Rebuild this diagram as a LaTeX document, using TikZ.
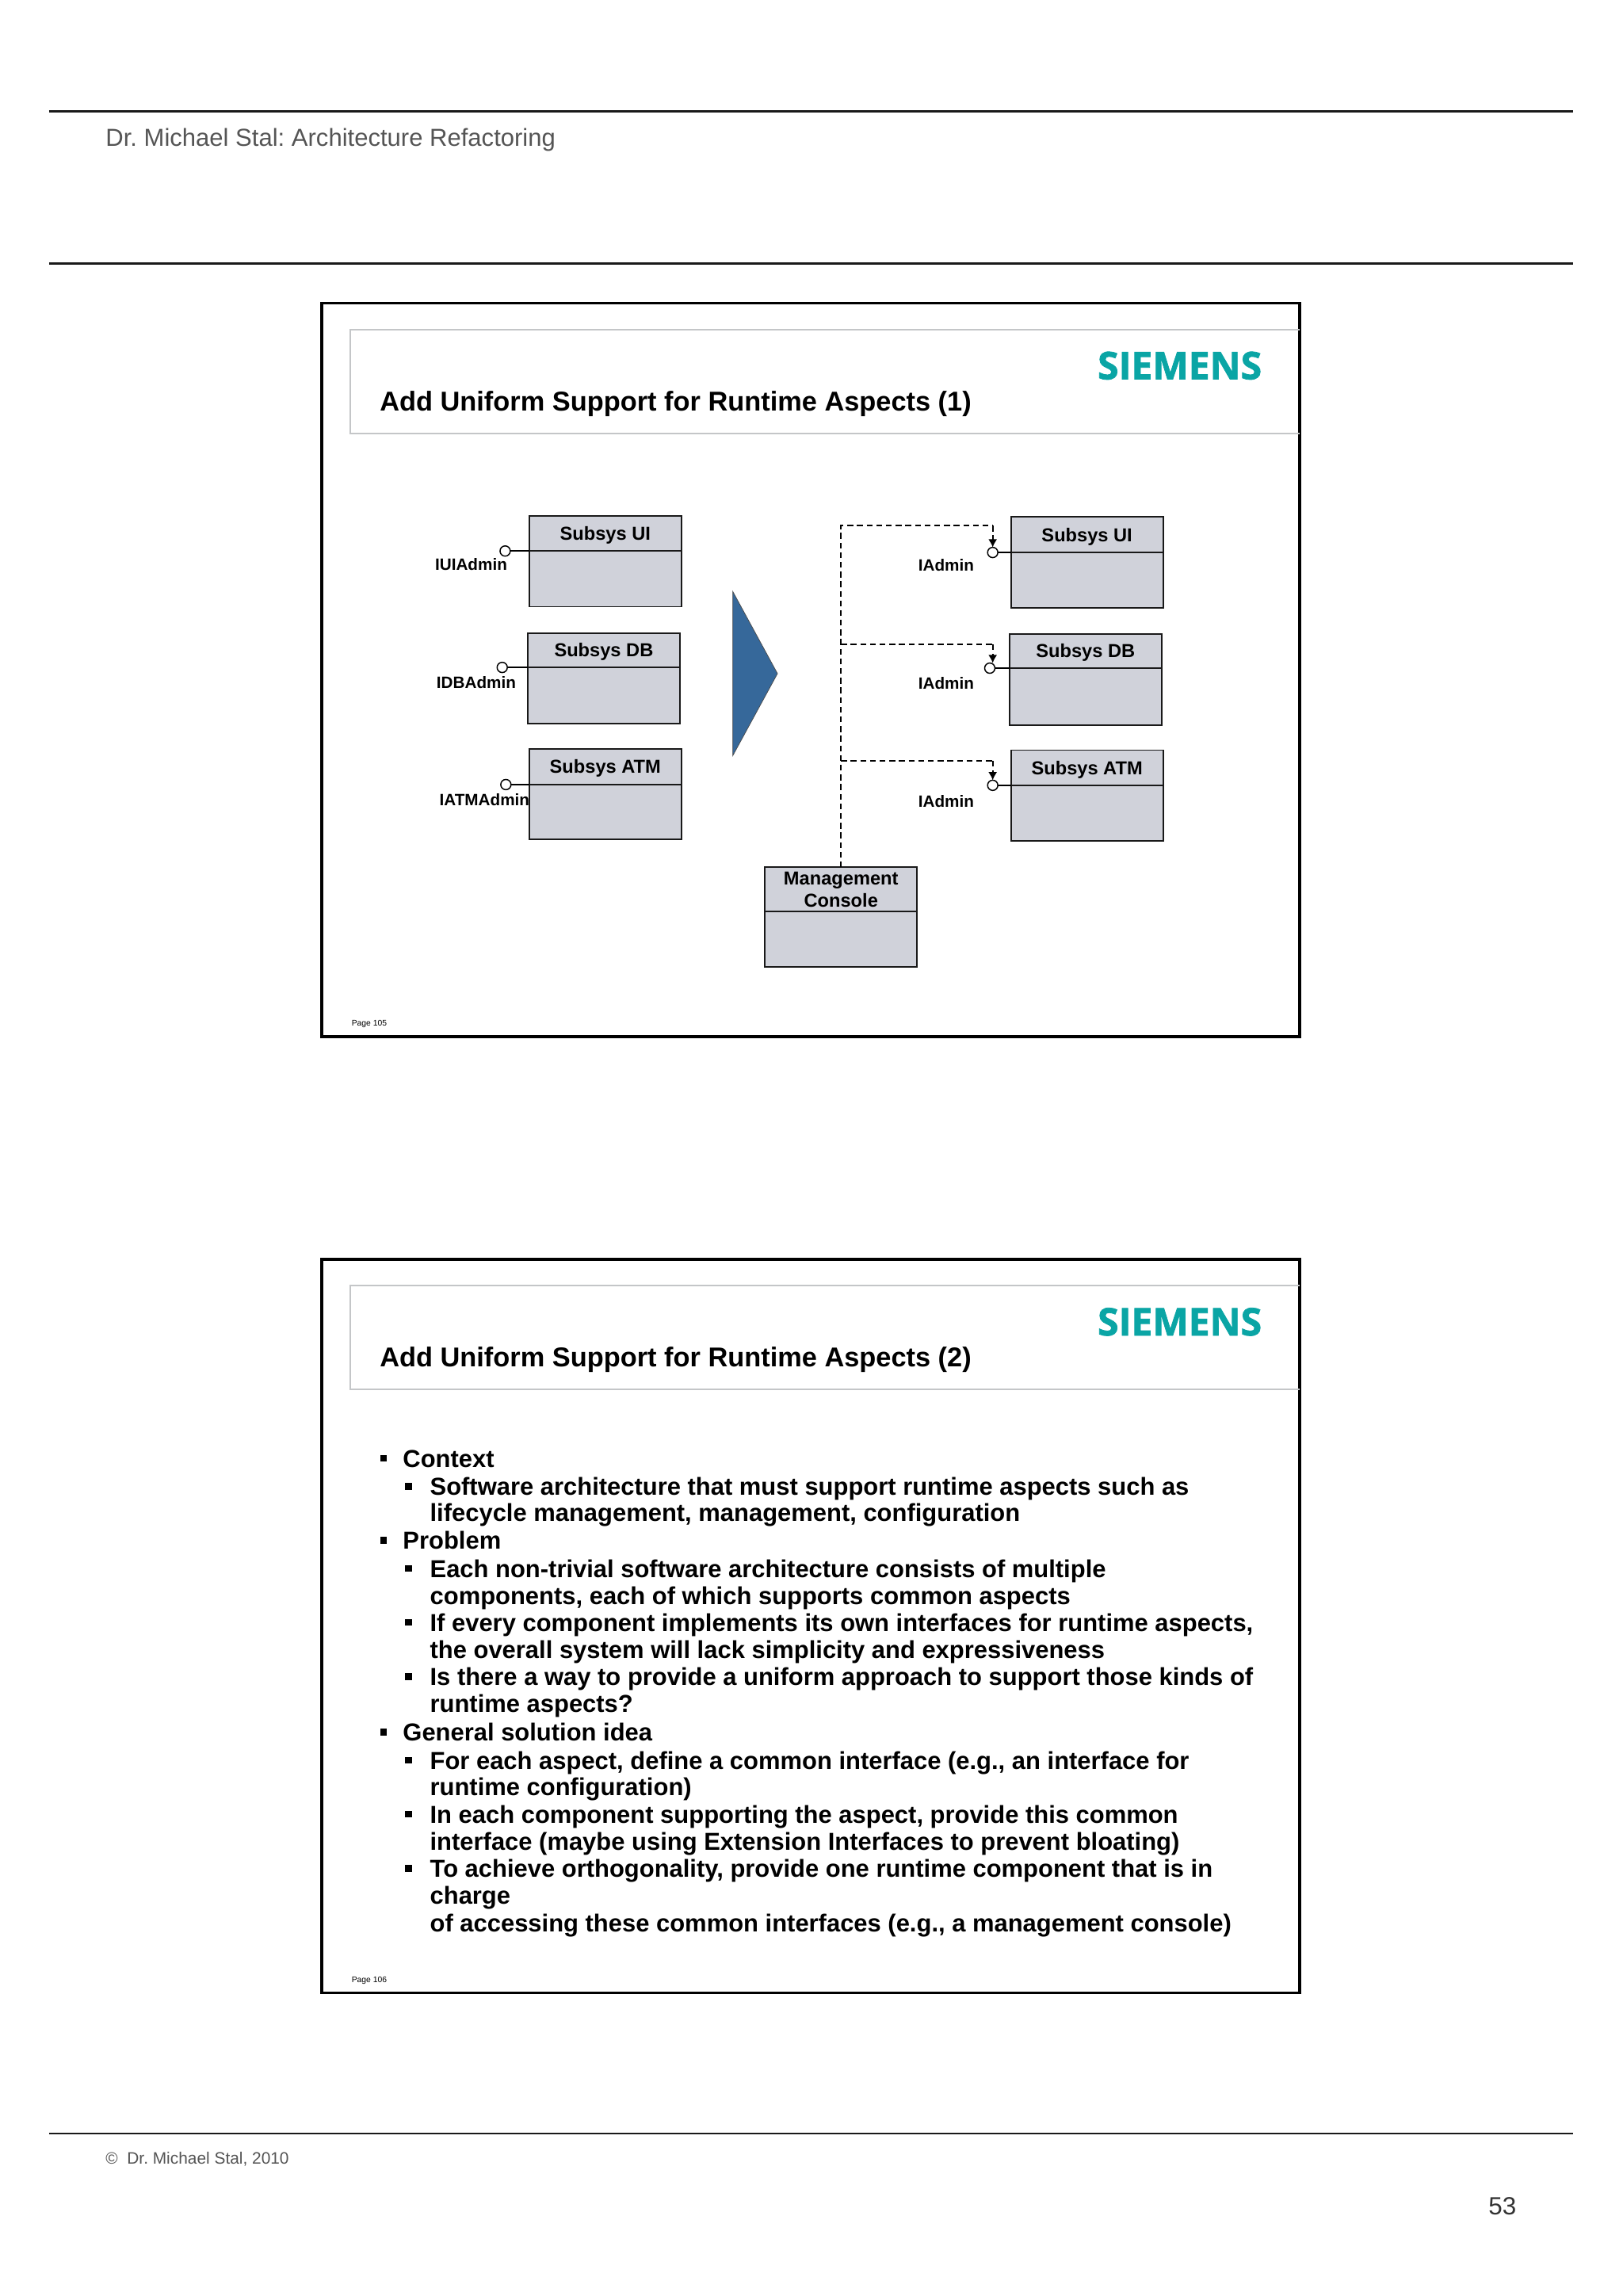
\documentclass[tikz,border=0pt]{standalone}
\usepackage{fontspec}
\setmainfont{Liberation Sans}
\newfontfamily\logofont[BoldFeatures={FakeBold=1.6}]{Open Sans}
\usetikzlibrary{arrows.meta,positioning}
\definecolor{boxfill}{HTML}{D0D2DA}
\definecolor{arrowblue}{HTML}{36689A}
\definecolor{logoteal}{HTML}{0AA5A5}
\definecolor{headgrey}{HTML}{555555}
\definecolor{titleline}{HTML}{C4C6C8}
\newcommand{\fsz}[1]{\fontsize{#1pt}{#1pt}\selectfont}
% compartment box: name, left, top, right, divider y, bottom, text
\newcommand{\compbox}[7]{%
  \node[boxpart,text depth=0pt,minimum width={(#4-#2)*1pt},minimum height={(#5-#3)*1pt},anchor=north west,align=center] (#1h) at (#2+0.4,#3+0.3) {#7};
  \node[boxpart,minimum width={(#4-#2)*1pt},minimum height={(#6-#5)*1pt},anchor=north west] (#1b) at (#2+0.4,#5+0.3) {};
}
\newcommand{\lineA}[3]{%
  \node[bullet] (#1b) at (262,#2) {};
  \node[bodytext] (#1) at (275,#2+6.1) {#3};
}
\newcommand{\lineB}[3]{%
  \node[bullet] (#1b) at (279,#2) {};
  \node[bodytext] (#1) at (293.5,#2+6.1) {#3};
}
\newcommand{\lineC}[3]{%
  \node[bodytext] (#1) at (293.5,#2+6.1) {#3};
}
\newcommand{\slide}[4]{% prefix, y offset, title, page
  \node[draw=black,line width=1.8pt,outer sep=0pt,minimum width=668pt,minimum height=501pt,anchor=north west,inner sep=0pt] (#1frame) at (219.7,207+#2) {};
  \draw[titleline,line width=1pt] (887.5,225+#2) -- (239,225+#2) -- (239,296+#2) -- (887.5,296+#2);
  \node[anchor=base west,inner sep=0pt,font=\bfseries\fsz{18.6}] (#1title) at (259.2,280.5+#2) {#3};
  \node[anchor=base west,inner sep=0pt,text=logoteal,font=\logofont\bfseries\fsz{26}] (#1logo) at (749.5,259+#2) {SIEMENS};
  \node[anchor=base west,inner sep=0pt,font=\fsz{5.6}] (#1page) at (240,700.8+#2) {#4};
}
\tikzset{
  x=1pt,y=-1pt,
  boxpart/.style={draw=black!90,fill=boxfill,line width=1pt,inner sep=0pt,outer sep=0pt,font=\bfseries\fsz{12.8}},
  lollipop/.style={circle,draw=black,fill=white,line width=0.8pt,minimum size=7pt,inner sep=0pt,outer sep=0pt},
  ifacelabel/.style={inner sep=0pt,anchor=base west,font=\bfseries\fsz{11.2}},
  stem/.style={draw=black,line width=0.9pt},
  dashline/.style={draw=black,line width=1pt,dash pattern=on 4pt off 2.6pt},
  dashtip/.style={dashline,-{Latex[length=5.5pt,width=6pt]}},
  bodytext/.style={anchor=base west,inner sep=0pt,font=\bfseries\fsz{16.75}},
  bullet/.style={fill=black,inner sep=0pt,minimum size=4.6pt},
  pagerule/.style={draw=black!90,line width=1.2pt},
}
\begin{document}
\frenchspacing
\begin{tikzpicture}
\useasboundingbox (0,0) rectangle (1108.4,1568);
\fill[white] (0,0) rectangle (1108.4,1568);
% page furniture
\coordinate (r1a) at (33.5,76); \coordinate (r1b) at (1074.5,76);
\coordinate (r2a) at (33.5,180); \coordinate (r2b) at (1074.5,180);
\coordinate (r3a) at (33.5,1457); \coordinate (r3b) at (1074.5,1457);
\draw[pagerule] (r1a) -- (r1b); \draw[pagerule] (r2a) -- (r2b); \draw[pagerule] (r3a) -- (r3b);
\node[anchor=base west,inner sep=0pt,text=headgrey,font=\fsz{16.8}] (head) at (72,100) {Dr. Michael Stal: Architecture Refactoring};
\node[anchor=base west,inner sep=0pt,text=headgrey,font=\fsz{11.3}] (foot) at (72,1478) {©\ \ Dr. Michael Stal, 2010};
\node[anchor=base west,inner sep=0pt,text=black!80,font=\fsz{17}] (pnum) at (1016.5,1512.5) {53};
% slides
\slide{a}{0}{Add Uniform Support for Runtime Aspects (1)}{Page 105}
\slide{b}{653}{Add Uniform Support for Runtime Aspects (2)}{Page 106}
% left boxes
\compbox{lu}{361}{352}{465}{376}{414}{Subsys UI}
\compbox{ld}{360}{432}{464}{455.5}{494}{Subsys DB}
\compbox{la}{361}{511}{465}{535.5}{573}{Subsys ATM}
\node[lollipop] (clu) at (345,376.3) {};
\node[lollipop] (cld) at (343,455.8) {};
\node[lollipop] (cla) at (345.5,535.8) {};
\draw[stem] (clu) -- (luh.south west);
\draw[stem] (cld) -- (ldh.south west);
\draw[stem] (cla) -- (lah.south west);
\node[ifacelabel] (tlu) at (297,389.5) {IUIAdmin};
\node[ifacelabel] (tld) at (298,470) {IDBAdmin};
\node[ifacelabel] (tla) at (300,550) {IATMAdmin};
% arrow
\fill[arrowblue,draw=black!70,line width=0.4pt] (500.5,404) -- (531,460) -- (500.5,516) -- cycle;
% right boxes
\compbox{ru}{690}{352.5}{794}{377}{415}{Subsys UI}
\compbox{rd}{689}{432.5}{793}{456}{495}{Subsys DB}
\compbox{ra}{690}{512}{794}{536}{574}{Subsys ATM}
\compbox{mc}{522}{592}{626}{622}{660}{Management\\[2.2pt]Console}
\node[lollipop] (cru) at (678,377.3) {};
\node[lollipop] (crd) at (676,456.3) {};
\node[lollipop] (cra) at (678,536.3) {};
\draw[stem] (cru) -- (ruh.south west);
\draw[stem] (crd) -- (rdh.south west);
\draw[stem] (cra) -- (rah.south west);
\node[ifacelabel] (tru) at (627,390) {IAdmin};
\node[ifacelabel] (trd) at (627,470.5) {IAdmin};
\node[ifacelabel] (tra) at (627,551) {IAdmin};
\coordinate (j1) at (574.4,359);
\coordinate (j2) at (574.4,440);
\coordinate (j3) at (574.4,519.5);
\coordinate (e1) at (678,359);
\coordinate (e2) at (678,440);
\coordinate (e3) at (678,519.5);
\coordinate (t2) at (678,452.8);
\draw[dashline] (mch.north) -- (j1) -- (e1);
\draw[dashline] (j2) -- (e2);
\draw[dashline] (j3) -- (e3);
\draw[dashtip] (e1) -- (cru.north);
\draw[dashtip] (e2) -- (t2);
\draw[dashtip] (e3) -- (cra.north);
% slide 2 text
\lineA{l1}{996}{Context}
\lineB{l2}{1015}{Software architecture that must support runtime aspects such as}
\lineC{l3}{1033}{lifecycle management, management, configuration}
\lineA{l4}{1052}{Problem}
\lineB{l5}{1071}{Each non-trivial software architecture consists of multiple}
\lineC{l6}{1089.5}{components, each of which supports common aspects}
\lineB{l7}{1108}{If every component implements its own interfaces for runtime aspects,}
\lineC{l8}{1126.5}{the overall system will lack simplicity and expressiveness}
\lineB{l9}{1145}{Is there a way to provide a uniform approach to support those kinds of}
\lineC{l10}{1163.5}{runtime aspects?}
\lineA{l11}{1183}{General solution idea}
\lineB{l12}{1202}{For each aspect, define a common interface (e.g., an interface for}
\lineC{l13}{1220}{runtime configuration)}
\lineB{l14}{1239}{In each component supporting the aspect, provide this common}
\lineC{l15}{1257.5}{interface (maybe using Extension Interfaces to prevent bloating)}
\lineB{l16}{1276}{To achieve orthogonality, provide one runtime component that is in}
\lineC{l17}{1294.5}{charge}
\lineC{l18}{1313}{of accessing these common interfaces (e.g., a management console)}
\end{tikzpicture}
\end{document}
